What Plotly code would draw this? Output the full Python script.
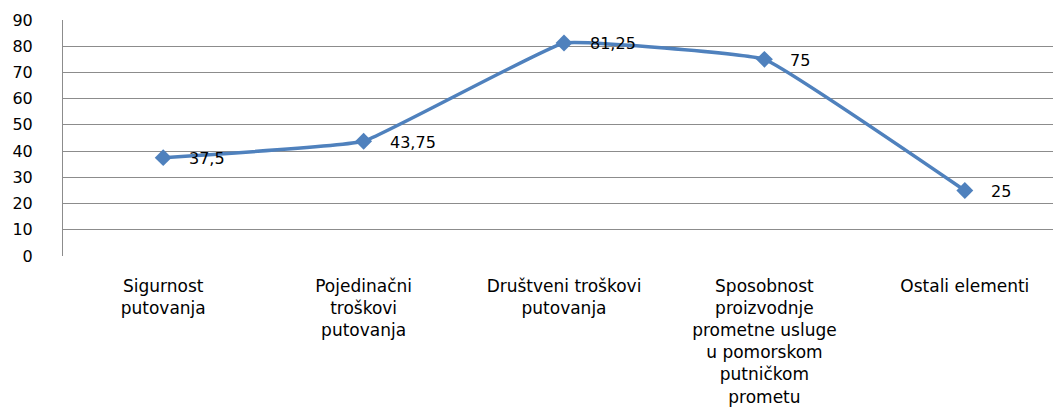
import plotly.graph_objects as go

categories = [
    "Sigurnost<br>putovanja",
    "Pojedinačni<br>troškovi<br>putovanja",
    "Društveni troškovi<br>putovanja",
    "Sposobnost<br>proizvodnje<br>prometne usluge<br>u pomorskom<br>putničkom<br>prometu",
    "Ostali elementi",
]
values = [37.5, 43.75, 81.25, 75, 25]
y_ticks = [0, 10, 20, 30, 40, 50, 60, 70, 80, 90]

BLUE = "#4F81BD"
GRID = "#8C8C8C"


def fmt(v):
    return ("%g" % v).replace(".", ",")


x_idx = list(range(len(categories)))

fig = go.Figure()
fig.add_trace(go.Scatter(
    x=x_idx,
    y=values,
    mode="lines+markers",
    line=dict(color=BLUE, width=3.5, shape="spline", smoothing=0.25),
    marker=dict(symbol="diamond", size=13, color=BLUE),
    hoverinfo="skip",
    showlegend=False,
))

for xi, v in zip(x_idx, values):
    fig.add_annotation(
        x=xi, y=v, text=fmt(v), showarrow=False,
        xanchor="left", yanchor="middle", xshift=24, yshift=-1,
        font=dict(family="DejaVu Sans", size=16, color="#000000"),
    )

fig.update_layout(
    width=1053,
    height=414,
    margin=dict(l=63, r=0, t=20, b=158),
    paper_bgcolor="white",
    plot_bgcolor="white",
    xaxis=dict(
        range=[-0.5, 4.44],
        tickmode="array",
        tickvals=x_idx,
        ticktext=categories,
        showgrid=False,
        zeroline=False,
        showline=False,
        ticks="",
        ticklabelstandoff=18,
        tickfont=dict(family="DejaVu Sans", size=17, color="#000000"),
        fixedrange=True,
    ),
    yaxis=dict(
        range=[0, 90],
        tickmode="array",
        tickvals=y_ticks,
        showgrid=True,
        gridcolor=GRID,
        gridwidth=1,
        zeroline=False,
        showline=True,
        linecolor=GRID,
        linewidth=1,
        ticks="",
        ticklabelstandoff=26,
        tickfont=dict(family="DejaVu Sans", size=16, color="#000000"),
        fixedrange=True,
    ),
)

fig.write_html("out.html")
